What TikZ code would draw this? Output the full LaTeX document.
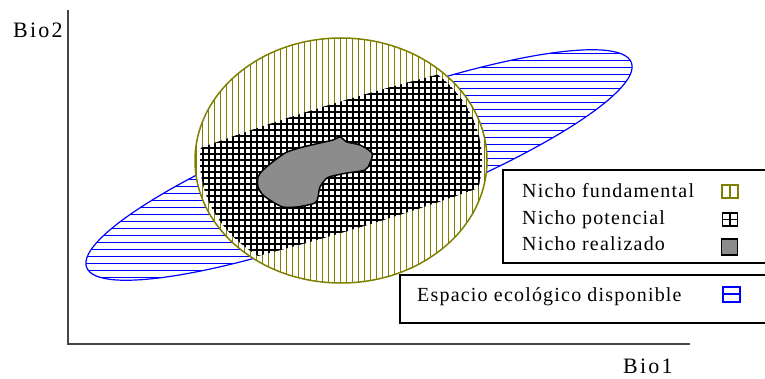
\documentclass[tikz,border=0pt]{standalone}
\usepackage{fontspec}
\setmainfont{Liberation Serif}
\newfontfamily\legfont{Liberation Serif}[LetterSpace=6]
\newfontfamily\axfont{Liberation Serif}[LetterSpace=10]
\definecolor{olivec}{RGB}{128,128,0}
\definecolor{bluec}{RGB}{0,0,255}
\definecolor{grayblob}{RGB}{140,140,140}
\definecolor{axisc}{RGB}{70,70,70}
\tikzset{
  axisline/.style={draw=axisc, line width=2pt},
  legbox/.style={draw=black, line width=1.3pt},
  legtext/.style={font=\legfont\fontsize{20}{24}\selectfont, anchor=base west, inner sep=0pt},
  axtext/.style={font=\axfont\fontsize{22}{26}\selectfont, anchor=base west, inner sep=0pt},
  iconbox/.style={minimum width=15pt, minimum height=13pt, inner sep=0pt, line width=1.5pt}
}
\begin{document}
\begin{tikzpicture}[x=1pt,y=-1pt]
\useasboundingbox (0,0) rectangle (765,379);
% axes
\coordinate (top) at (68,10);
\coordinate (orig) at (68,344);
\coordinate (right) at (690,344);
\draw[axisline] (top) -- (orig) -- (right);
\node[axtext] (bio2) at (13,38) {Bio2};
\node[axtext] (bio1) at (623,373) {Bio1};
% blue ellipse (espacio ecologico)
\begin{scope}
  \clip[rotate around={20.6:(359,165)}] (359,165) ellipse [x radius=291, y radius=56.5];
  \fill[white] (0,0) rectangle (765,379);
  \foreach \yy in {46.5,53.5,...,300} \draw[bluec, line width=1.6pt] (60,\yy) -- (700,\yy);
\end{scope}
\draw[bluec, line width=1.2pt, rotate around={20.6:(359,165)}] (359,165) ellipse [x radius=291, y radius=56.5];
% circle (nicho fundamental)
\begin{scope}
  \clip (341,160.5) ellipse [x radius=146, y radius=122.5];
  \fill[white] (190,30) rectangle (495,290);
  \foreach \xx in {196.5,202.5,...,490} \draw[olivec, line width=1.7pt] (\xx,30) -- (\xx,290);
\end{scope}
\draw[olivec, line width=1.5pt] (341,160.5) ellipse [x radius=146, y radius=122.5];
% cross-hatch (nicho potencial)
\begin{scope}
  \clip (341,160.5) ellipse [x radius=141, y radius=118];
  \clip[rotate around={17:(345,166)}] (345,166) ellipse [x radius=400, y radius=63];
  \fill[white] (190,30) rectangle (495,290);
  \foreach \xx in {196.5,202.5,...,490} \draw[black, line width=2pt] (\xx,30) -- (\xx,290);
  \foreach \yy in {40.5,46.5,...,290} \draw[black, line width=2pt] (190,\yy) -- (495,\yy);
\end{scope}
% gray blob (nicho realizado)
\draw[fill=grayblob, draw=black, line width=1.5pt] plot[smooth cycle, tension=0.45] coordinates {
 (340,137) (347,142) (360,145) (372,153) (370,163) (365,170) (347,173) (337,175)
 (327,178) (320,187) (318,197) (315,203) (297,207) (283,207) (273,202) (263,195)
 (258,187) (258,177) (263,170) (275,160) (287,152) (303,147) (320,143) (333,140)};
% legend 1
\coordinate (l1a) at (766,170);
\coordinate (l1b) at (503,170);
\coordinate (l1c) at (503,263);
\coordinate (l1d) at (766,263);
\draw[legbox] (l1a) -- (l1b) -- (l1c) -- (l1d);
\node[legtext] (nf) at (522,198) {Nicho fundamental};
\node[legtext] (np) at (522,224.5) {Nicho potencial};
\node[legtext] (nr) at (522,251) {Nicho realizado};
\node[iconbox, draw=olivec, line width=2pt, minimum width=16pt] (icf) at (729.5,192) {};
\draw[olivec, line width=2pt] (icf.north) -- (icf.south);
\node[iconbox, draw=black] (icp) at (730,219.5) {};
\draw[black, line width=1.5pt] (icp.north) -- (icp.south) (icp.west) -- (icp.east);
\node[iconbox, draw=black, fill=grayblob, minimum width=16pt, minimum height=16pt] (icr) at (729.5,247) {};
% legend 2
\coordinate (l2a) at (766,275);
\coordinate (l2b) at (400,275);
\coordinate (l2c) at (400,323);
\coordinate (l2d) at (766,323);
\draw[legbox] (l2a) -- (l2b) -- (l2c) -- (l2d);
\node[legtext] (ed) at (417,301) {Espacio ecológico disponible};
\node[iconbox, draw=bluec, line width=2pt, minimum width=17pt, minimum height=15pt] (ice) at (731,294) {};
\draw[bluec, line width=2pt] (ice.west) -- (ice.east);
\end{tikzpicture}
\end{document}
